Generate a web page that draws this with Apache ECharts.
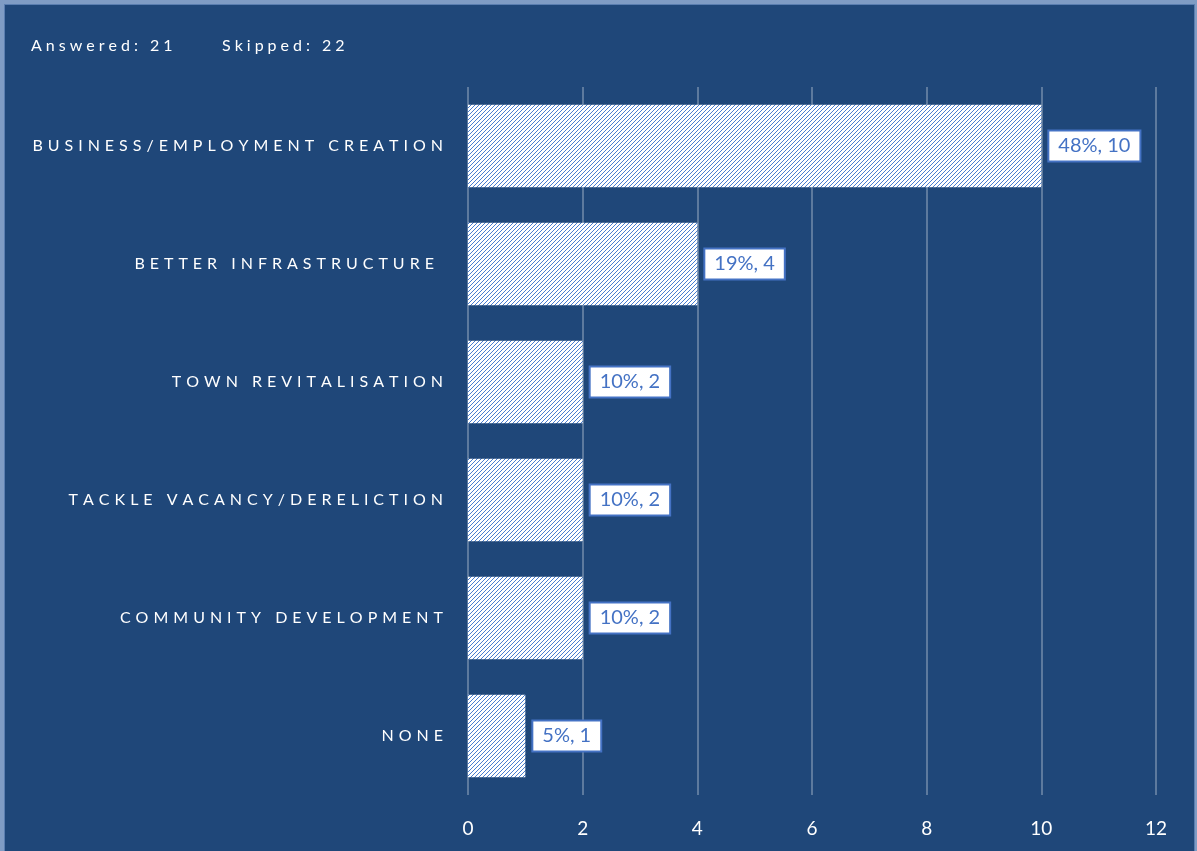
<!DOCTYPE html>
<html>
<head>
<meta charset="utf-8">
<title>Priorities</title>
<script src="https://cdn.jsdelivr.net/npm/echarts@6/dist/echarts.min.js"></script>
<style>
  html, body { margin: 0; padding: 0; background: #7f9cc4; }
  #frame {
    position: absolute; left: 4px; top: 4px; width: 1189px; height: 860px;
    background: #1f4779; border: 1px solid #5a7eb0;
  }
  #chart { position: absolute; left: -5px; top: -5px; width: 1197px; height: 851px; }
</style>
</head>
<body>
<div id="frame"><div id="chart"></div></div>
<script>
// Survey responses: counts per answer and their share of respondents
const categories = [
  'BUSINESS/EMPLOYMENT CREATION',
  'BETTER INFRASTRUCTURE ',
  'TOWN REVITALISATION',
  'TACKLE VACANCY/DERELICTION',
  'COMMUNITY DEVELOPMENT',
  'NONE'
];
const counts = [10, 4, 2, 2, 2, 1];
const percents = [48, 19, 10, 10, 10, 5];
const answered = 21;
const skipped = 22;

// spread letters apart with narrow spaces
function spaced(s, gap) {
  return s.split('').join(gap || '\u2009\u2009\u200A');
}

// diagonal hatch fill, one pixel per step
function hatch() {
  const n = 8;
  const c = document.createElement('canvas');
  c.width = n; c.height = n;
  const ctx = c.getContext('2d');
  const img = ctx.createImageData(n, n);
  for (let y = 0; y < n; y++) {
    for (let x = 0; x < n; x++) {
      const i = (y * n + x) * 4;
      const on = (x + y) % 4 === 3;
      img.data[i] = on ? 0x4a : 255;
      img.data[i + 1] = on ? 0x7e : 255;
      img.data[i + 2] = on ? 0xd0 : 255;
      img.data[i + 3] = 255;
    }
  }
  ctx.putImageData(img, 0, 0);
  return c;
}

const chart = echarts.init(document.getElementById('chart'), null, { renderer: 'canvas' });
const fontFamily = 'Lato, "Open Sans", sans-serif';

chart.setOption({
  backgroundColor: 'transparent',
  animation: false,
  graphic: [{
    type: 'text',
    left: 31,
    top: 38,
    style: {
      text: spaced('Answered: ' + answered, '\u2009\u2009'),
      fill: '#ffffff',
      font: '16px ' + fontFamily
    }
  }, {
    type: 'text',
    left: 222,
    top: 38,
    style: {
      text: spaced('Skipped: ' + skipped, '\u2009\u2009'),
      fill: '#ffffff',
      font: '16px ' + fontFamily
    }
  }],
  grid: { left: 468, right: 41, top: 87, bottom: 56, containLabel: false },
  xAxis: {
    type: 'value',
    min: 0,
    max: 12,
    interval: 2,
    axisLine: { show: false },
    axisTick: { show: false },
    splitLine: { lineStyle: { color: 'rgba(255,255,255,0.28)', width: 2 } },
    axisLabel: { color: '#ffffff', fontSize: 19, fontFamily: fontFamily, margin: 24 }
  },
  yAxis: {
    type: 'category',
    inverse: true,
    data: categories,
    axisLine: { show: false },
    axisTick: { show: false },
    axisLabel: {
      color: '#ffffff',
      fontSize: 16,
      fontFamily: fontFamily,
      margin: 25,
      formatter: v => spaced(v)
    }
  },
  series: [{
    type: 'bar',
    data: counts,
    barCategoryGap: '30%',
    itemStyle: { color: { image: hatch(), repeat: 'repeat' } },
    label: {
      show: true,
      position: 'right',
      distance: 8,
      color: '#4472c4',
      fontSize: 20,
      fontFamily: fontFamily,
      backgroundColor: '#ffffff',
      borderColor: '#4472c4',
      borderWidth: 2,
      padding: [5, 9, 4, 9],
      formatter: p => percents[p.dataIndex] + '%, ' + p.value
    }
  }]
});
</script>
</body>
</html>
